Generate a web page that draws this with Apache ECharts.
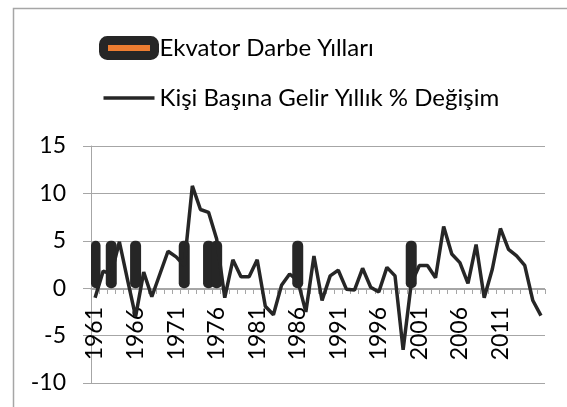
<!DOCTYPE html>
<html>
<head>
<meta charset="utf-8">
<script src="https://cdn.jsdelivr.net/npm/echarts@6/dist/echarts.min.js"></script>
<style>
  html, body { margin: 0; padding: 0; background: #fff; }
  #main { width: 567px; height: 407px; }
</style>
</head>
<body>
<div id="main"></div>
<script>
// yillar 1961 - 2016
var firstYear = 1961;
var lastYear = 2016;
var years = [];
for (var y = firstYear; y <= lastYear; y++) years.push(String(y));

// darbe yillari (sutun yuksekligi 5)
var coupYears = [1961, 1963, 1966, 1972, 1975, 1976, 1986, 2000];
var coupHeight = 5;

// kisi basina gelir yillik % degisim
var growth = [
  -1.0, 1.8, 1.5, 4.9, 0.9, -3.0, 1.7, -0.9, 1.5, 3.9,
  3.3, 2.4, 10.8, 8.3, 8.0, 5.2, -1.0, 3.0, 1.2, 1.2,
  3.0, -1.9, -2.8, 0.3, 1.5, 0.8, -2.5, 3.4, -1.3, 1.3,
  1.9, -0.1, -0.2, 2.1, 0.1, -0.4, 2.2, 1.3, -6.5, 0.5,
  2.4, 2.4, 1.1, 6.5, 3.6, 2.7, 0.5, 4.6, -1.0, 2.0,
  6.3, 4.1, 3.4, 2.4, -1.3, -2.9
];

var yTicks = { min: -10, max: 15, step: 5 };

var barName = 'Ekvator Darbe Yılları';
var lineName = 'Kişi Başına Gelir Yıllık % Değişim';

var coupData = years.map(function (yr) {
  return coupYears.indexOf(Number(yr)) >= 0 ? coupHeight : null;
});

var dark = '#262626';
var orange = '#ed7d31';
var grayLine = '#a6a6a6';
var font = 'Lato';

var myChart = echarts.init(document.getElementById('main'));

var option = {
  animation: false,
  backgroundColor: '#fff',
  textStyle: { fontFamily: font },
  graphic: [{
    type: 'rect',
    shape: { x: 13.5, y: 8.5, width: 600, height: 450 },
    style: { fill: 'none', stroke: grayLine, lineWidth: 1.5 },
    silent: true
  }],
  legend: {
    orient: 'vertical',
    left: 99,
    top: 36,
    padding: 0,
    itemWidth: 51,
    itemHeight: 15,
    itemGap: 26,
    textStyle: { fontFamily: font, fontSize: 24, color: '#000', lineHeight: 24 },
    data: [
      { name: barName, itemStyle: { color: orange, borderColor: dark, borderWidth: 9 } },
      { name: lineName, itemStyle: { opacity: 0 }, lineStyle: { width: 3.5, color: dark } }
    ]
  },
  grid: { left: 91, right: 22, top: 146, bottom: 24, containLabel: false, outerBoundsMode: 'none' },
  xAxis: {
    type: 'category',
    data: years,
    boundaryGap: true,
    position: 'bottom',
    offset: -94, // eksen 0 cizgisinde
    axisLine: { onZero: false, lineStyle: { color: grayLine, width: 1 } },
    axisTick: { show: true, interval: 0, length: 5, lineStyle: { color: grayLine } },
    axisLabel: {
      rotate: 90,
      margin: 18,
      fontSize: 23,
      fontFamily: font,
      color: '#000',
      interval: function (i) { return i % 5 === 0 && i < 55; }
    },
    splitLine: { show: false }
  },
  yAxis: {
    type: 'value',
    min: yTicks.min,
    max: yTicks.max,
    interval: yTicks.step,
    axisLine: { show: true, lineStyle: { color: grayLine } },
    axisTick: { show: true, length: 8, lineStyle: { color: grayLine } },
    axisLabel: { margin: 25, fontSize: 23, fontFamily: font, color: '#000' },
    splitLine: { lineStyle: { color: grayLine, width: 1 } }
  },
  series: [
    {
      name: barName,
      type: 'bar',
      data: coupData,
      barWidth: 11,
      itemStyle: {
        color: dark,
        borderRadius: 5
      }
    },
    {
      name: lineName,
      type: 'line',
      data: growth,
      showSymbol: false,
      symbol: 'none',
      lineStyle: { color: dark, width: 3.5 },
      itemStyle: { color: dark }
    }
  ]
};

myChart.setOption(option);
</script>
</body>
</html>
